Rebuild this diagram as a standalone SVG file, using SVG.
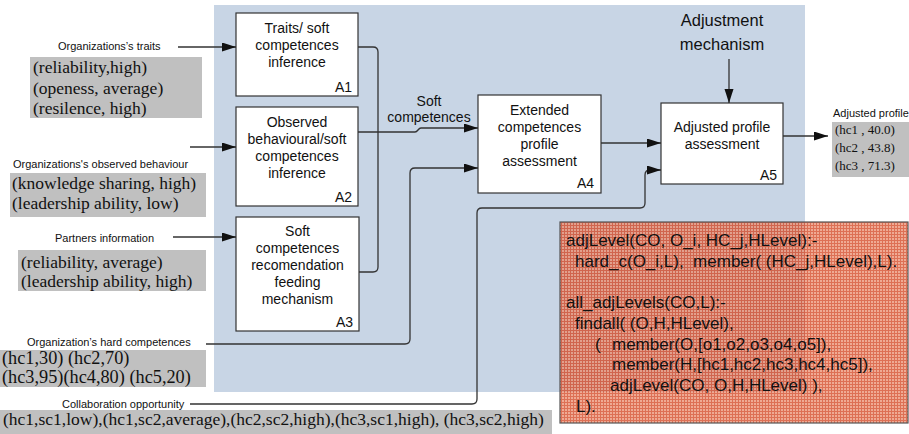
<svg xmlns="http://www.w3.org/2000/svg" width="909" height="434" viewBox="0 0 909 434">
<style>
.box{fill:#fff;stroke:#333;stroke-width:1.2}
.bt{font-family:"Liberation Sans",Arial,sans-serif;font-size:14px;fill:#111;text-anchor:middle}
.id{font-family:"Liberation Sans",Arial,sans-serif;font-size:14px;fill:#111;text-anchor:end}
.lbl{font-family:"Liberation Sans",Arial,sans-serif;font-size:11px;fill:#111}
.data{fill:#c0c0c0}
.dt{font-family:"Liberation Serif","Times New Roman",serif;font-size:17.5px;fill:#111}
.con{fill:none;stroke:#333;stroke-width:1.3}
.code{font-family:"Liberation Sans",Arial,sans-serif;font-size:17px;fill:#111;white-space:pre}
</style>
<defs>
<marker id="ah" markerUnits="userSpaceOnUse" markerWidth="15" markerHeight="10" refX="14" refY="4.5" orient="auto">
<path d="M0,0 L14,4.5 L0,9 z" fill="#111"/>
</marker>
<pattern id="grid" width="3" height="3" patternUnits="userSpaceOnUse">
<rect width="3" height="3" fill="#ea8e70"/>
<path d="M0,0.5 H3 M0.5,0 V3" stroke="#d2401c" stroke-width="1"/>
</pattern>
</defs>

<rect id="context" x="214" y="5" width="591" height="387" fill="#c8d5e5"/>

<g id="A1">
<rect class="box" x="236" y="13" width="122" height="83"/>
<text class="bt" x="297" y="33">Traits/ soft</text>
<text class="bt" x="297" y="50">competences</text>
<text class="bt" x="297" y="67">inference</text>
<text class="id" x="352" y="92">A1</text>
</g>
<g id="A2">
<rect class="box" x="236" y="107" width="122" height="99"/>
<text class="bt" x="297" y="127">Observed</text>
<text class="bt" x="297" y="144">behavioural/soft</text>
<text class="bt" x="297" y="161">competences</text>
<text class="bt" x="297" y="178">inference</text>
<text class="id" x="352" y="202">A2</text>
</g>
<g id="A3">
<rect class="box" x="236" y="217" width="123" height="114"/>
<text class="bt" x="297.5" y="236">Soft</text>
<text class="bt" x="297.5" y="253">competences</text>
<text class="bt" x="297.5" y="270">recomendation</text>
<text class="bt" x="297.5" y="287">feeding</text>
<text class="bt" x="297.5" y="304">mechanism</text>
<text class="id" x="353" y="327">A3</text>
</g>
<g id="A4">
<rect class="box" x="478" y="95" width="123" height="98"/>
<text class="bt" x="539.5" y="115">Extended</text>
<text class="bt" x="539.5" y="132">competences</text>
<text class="bt" x="539.5" y="149">profile</text>
<text class="bt" x="539.5" y="166">assessment</text>
<text class="id" x="594" y="188">A4</text>
</g>
<g id="A5">
<rect class="box" x="661" y="103" width="122" height="81"/>
<text class="bt" x="722" y="132">Adjusted profile</text>
<text class="bt" x="722" y="149">assessment</text>
<text class="id" x="777" y="180">A5</text>
</g>

<g id="adjustment-mechanism">
<text class="bt" x="722" y="26" style="font-size:16.5px">Adjustment</text>
<text class="bt" x="722" y="50" style="font-size:16.5px">mechanism</text>
</g>

<g id="traits">
<text class="lbl" x="58" y="50">Organizations’s traits</text>
<rect class="data" x="30" y="57" width="172" height="61"/>
<text class="dt" x="33" y="73">(reliability,high)</text>
<text class="dt" x="33" y="93.5">(openess, average)</text>
<text class="dt" x="33" y="114">(resilence, high)</text>
</g>
<g id="observed">
<text class="lbl" x="13" y="168">Organizations's observed behaviour</text>
<rect class="data" x="10" y="173" width="196" height="44"/>
<text class="dt" x="12" y="189">(knowledge sharing, high)</text>
<text class="dt" x="12" y="209">(leadership ability, low)</text>
</g>
<g id="partners">
<text class="lbl" x="55" y="242">Partners information</text>
<rect class="data" x="18" y="250" width="188" height="41"/>
<text class="dt" x="21" y="268">(reliability, average)</text>
<text class="dt" x="21" y="287">(leadership ability, high)</text>
</g>
<g id="hard">
<text class="lbl" x="27" y="346">Organization’s hard competences</text>
<rect class="data" x="0" y="350" width="206" height="37"/>
<text class="dt" x="2" y="364" style="font-size:18.3px">(hc1,30) (hc2,70)</text>
<text class="dt" x="2" y="383" style="font-size:18.3px">(hc3,95)(hc4,80) (hc5,20)</text>
</g>
<g id="collab">
<text class="lbl" x="62" y="408">Collaboration opportunity</text>
<rect class="data" x="0" y="410" width="552" height="24"/>
<text class="dt" x="3" y="425">(hc1,sc1,low),(hc1,sc2,average),(hc2,sc2,high),(hc3,sc1,high), (hc3,sc2,high)</text>
</g>
<g id="adjusted">
<text class="lbl" x="833" y="117">Adjusted profile</text>
<rect class="data" x="832" y="122" width="77" height="55"/>
<text class="dt" x="835" y="134" style="font-size:13px">(hc1 , 40.0)</text>
<text class="dt" x="835" y="152" style="font-size:13px">(hc2 , 43.8)</text>
<text class="dt" x="835" y="170" style="font-size:13px">(hc3 , 71.3)</text>
</g>

<g id="connectors">
<path class="con" d="M178,47 H236" marker-end="url(#ah)"/>
<path class="con" d="M190,147 H236" marker-end="url(#ah)"/>
<path class="con" d="M173,237 H236" marker-end="url(#ah)"/>
<path class="con" d="M358,47 H373 Q378,47 378,52 V267 Q378,272 373,272 H359"/>
<path class="con" d="M358,132 H415 C418,132 418,128 421,128 H478" marker-end="url(#ah)"/>
<path class="con" d="M206,344 H405 Q410,344 410,339 V173 Q410,168 415,168 H478" marker-end="url(#ah)"/>
<path class="con" d="M190,404 H472 Q477,404 477,399 V213 Q477,208 482,208 H640 Q645,208 645,203 V175 Q645,170 650,170 H661" marker-end="url(#ah)"/>
<path class="con" d="M601,143 H661" marker-end="url(#ah)"/>
<path class="con" d="M729,59 V103" marker-end="url(#ah)"/>
<path class="con" d="M783,136 H828" marker-end="url(#ah)"/>
<text class="bt" x="429" y="106">Soft</text>
<text class="bt" x="429" y="122">competences</text>
</g>

<g id="rules">
<rect x="560" y="222" width="348" height="201" fill="url(#grid)" opacity="0.75"/>
<rect x="560" y="222" width="348" height="201" fill="none" stroke="#555" stroke-width="1.2"/>
<text class="code" x="566" y="246">adjLevel(CO, O_i, HC_j,HLevel):-</text>
<text class="code" x="575" y="267">hard_c(O_i,L),  member( (HC_j,HLevel),L).</text>
<text class="code" x="566" y="308">all_adjLevels(CO,L):-</text>
<text class="code" x="575" y="329">findall( (O,H,HLevel),</text>
<text class="code" x="595" y="350">(</text>
<text class="code" x="612" y="350">member(O,[o1,o2,o3,o4,o5]),</text>
<text class="code" x="612" y="370">member(H,[hc1,hc2,hc3,hc4,hc5]),</text>
<text class="code" x="610" y="391">adjLevel(CO, O,H,HLevel) ),</text>
<text class="code" x="576" y="412">L).</text>
</g>
</svg>
